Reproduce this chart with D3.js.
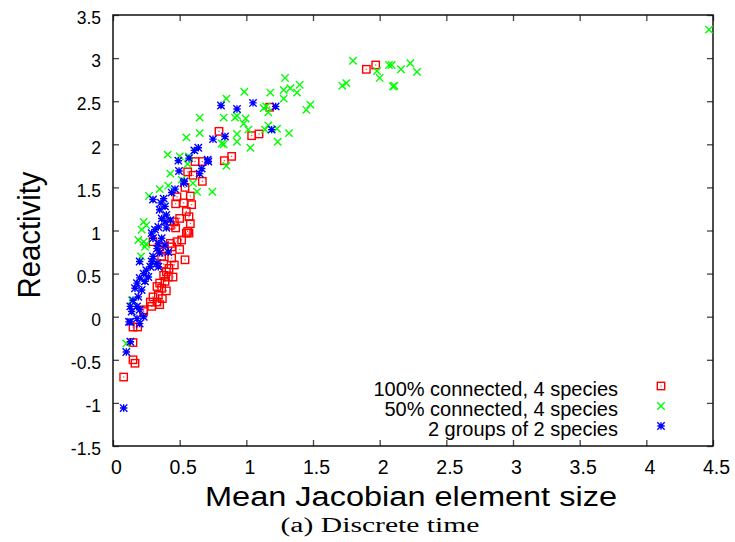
<!DOCTYPE html>
<html><head><meta charset="utf-8">
<script src="https://cdn.jsdelivr.net/npm/d3@7"></script>
<style>
html,body{margin:0;padding:0;background:#fff;}
svg{display:block;}
</style></head>
<body>
<script>
// ---- data ----
const xTicks = [0, 0.5, 1, 1.5, 2, 2.5, 3, 3.5, 4, 4.5];
const xTickLabels = ["0", "0.5", "1", "1.5", "2", "2.5", "3", "3.5", "4", "4.5"];
const yTicks = [-1.5, -1, -0.5, 0, 0.5, 1, 1.5, 2, 2.5, 3, 3.5];
const yTickLabels = ["-1.5", "-1", "-0.5", "0", "0.5", "1", "1.5", "2", "2.5", "3", "3.5"];
const seriesNames = ["100% connected, 4 species", "50% connected, 4 species", "2 groups of 2 species"];
const xTitle = "Mean Jacobian element size";
const yTitle = "Reactivity";
const caption = "(a) Discrete time";

const connected100 = [
 [1.90,2.87],[1.97,2.92],[1.175,2.43],[0.795,2.15],[1.04,2.10],[1.095,2.12],[0.835,1.81],[0.89,1.86],
 [0.615,1.80],[0.67,1.80],[0.56,1.68],[0.60,1.64],[0.67,1.57],[0.54,1.50],[0.48,1.39],[0.58,1.40],
 [0.47,1.31],[0.53,1.32],[0.59,1.30],[0.55,1.22],[0.57,1.16],[0.50,1.14],[0.58,1.08],[0.56,0.99],
 [0.57,0.97],[0.55,0.97],[0.515,0.89],[0.48,0.87],[0.43,0.85],[0.44,0.81],[0.47,1.03],[0.46,1.10],
 [0.43,1.06],[0.30,0.87],[0.35,0.81],[0.38,0.77],[0.365,0.70],[0.54,0.66],[0.46,0.60],[0.40,0.52],
 [0.38,0.48],[0.415,0.46],[0.45,0.46],[0.39,0.41],[0.35,0.39],[0.365,0.33],[0.34,0.25],[0.30,0.23],
 [0.37,0.21],[0.33,0.17],[0.35,0.14],[0.29,0.12],[0.23,0.06],[0.28,0.17],[0.23,0.08],[0.15,-0.12],
 [0.185,-0.12],[0.15,-0.30],[0.15,-0.50],[0.165,-0.54],[0.08,-0.70],
 [0.42,0.56],[0.38,0.61],[0.33,0.35],[0.40,0.30],[0.44,0.68],[0.50,0.78]
];
const connected50 = [
 [1.80,2.97],[1.75,2.71],[1.72,2.68],[2.07,2.92],[2.09,2.92],[2.16,2.87],[2.23,2.94],[2.28,2.84],
 [2.0,2.77],[1.98,2.85],[2.11,2.68],[2.10,2.67],[1.29,2.77],[1.33,2.65],[1.38,2.60],[1.40,2.69],
 [1.28,2.63],[1.28,2.53],[1.48,2.46],[1.45,2.40],[1.18,2.60],[0.985,2.61],[0.85,2.53],[1.13,2.42],
 [1.15,2.44],[1.165,2.37],[0.65,2.31],[0.83,2.31],[0.93,2.33],[0.915,2.31],[0.995,2.30],[0.98,2.24],
 [1.015,2.17],[1.165,2.22],[1.14,2.17],[1.23,2.18],[1.32,2.13],[1.235,2.03],[1.03,1.96],[0.93,2.12],
 [0.93,2.03],[0.815,2.01],[0.83,2.0],[0.65,2.13],[0.55,2.08],[0.41,1.88],[0.50,1.86],[0.57,1.86],
 [0.85,1.75],[0.745,1.45],[0.43,1.66],[0.56,1.77],[0.63,1.45],[0.27,1.40],[0.35,1.48],[0.415,1.52],
 [0.515,1.59],[0.60,1.55],[0.23,1.10],[0.25,1.06],[0.215,1.01],[0.19,0.89],[0.23,0.87],[0.24,0.81],
 [0.25,0.84],[0.21,0.70],[0.14,0.19],[0.10,-0.31],[4.47,3.33]
];
const groups2x2 = [
 [0.81,2.45],[0.93,2.41],[1.05,2.48],[1.22,2.44],[1.19,2.17],[0.75,2.06],[0.84,2.09],[0.61,1.93],
 [0.64,1.96],[0.49,1.81],[0.57,1.84],[0.71,1.82],[0.715,1.80],[0.495,1.69],[0.65,1.66],[0.665,1.72],
 [0.535,1.57],[0.53,1.55],[0.465,1.48],[0.44,1.44],[0.38,1.37],[0.30,1.36],[0.36,1.32],[0.39,1.28],
 [0.35,1.24],[0.40,1.18],[0.365,1.14],[0.39,1.10],[0.43,1.12],[0.34,1.04],[0.40,1.03],[0.315,1.01],
 [0.29,0.97],[0.30,0.91],[0.365,0.91],[0.34,0.85],[0.39,0.83],[0.33,0.79],[0.415,0.75],[0.35,0.74],
 [0.30,0.70],[0.29,0.64],[0.33,0.62],[0.28,0.58],[0.25,0.54],[0.34,0.58],[0.23,0.50],[0.265,0.46],
 [0.20,0.45],[0.24,0.41],[0.18,0.39],[0.165,0.33],[0.215,0.31],[0.19,0.23],[0.15,0.19],[0.13,0.12],
 [0.18,0.12],[0.20,0.08],[0.14,0.06],[0.23,0.00],[0.18,-0.02],[0.13,-0.06],[0.20,-0.08],[0.20,0.64],
 [0.12,-0.06],[0.13,-0.29],[0.10,-0.41],[0.08,-1.06]
];

// ---- layout ----
const W = 735, H = 542;
const L = 113, R = 713, T = 15, B = 446;
const sans = "'Liberation Sans',Arial,Helvetica,sans-serif";
const serif = "'Liberation Serif','DejaVu Serif',serif";
const svg = d3.select("body").append("svg").attr("width", W).attr("height", H);

const x = d3.scaleLinear().domain([0, 4.5]).range([L, R]);
const y = d3.scaleLinear().domain([-1.5, 3.5]).range([B, T]);

const tickColor = "#444";
// bottom axis
const gx = svg.append("g").attr("transform", `translate(0,${B})`)
  .call(d3.axisBottom(x).tickValues(xTicks).tickFormat((d, i) => xTickLabels[i]).tickSizeInner(-6).tickSizeOuter(0).tickPadding(14));
gx.select(".domain").remove();
gx.selectAll(".tick line").attr("stroke", tickColor).attr("stroke-width", 1.3);
gx.selectAll(".tick text").attr("fill", "#000").attr("x", 3)
  .style("font-family", sans).style("font-size", "19.5px");
// top axis (mirror ticks)
const gt = svg.append("g").attr("transform", `translate(0,${T})`)
  .call(d3.axisTop(x).tickValues(xTicks).tickFormat("").tickSizeInner(-6).tickSizeOuter(0));
gt.select(".domain").remove();
gt.selectAll(".tick line").attr("stroke", tickColor).attr("stroke-width", 1.3);
// left axis
const gy = svg.append("g").attr("transform", `translate(${L},0)`)
  .call(d3.axisLeft(y).tickValues(yTicks).tickFormat((d, i) => yTickLabels[i]).tickSizeInner(-6).tickSizeOuter(0).tickPadding(12));
gy.select(".domain").remove();
gy.selectAll(".tick line").attr("stroke", tickColor).attr("stroke-width", 1.3);
gy.selectAll(".tick text").attr("fill", "#000").attr("dy", "0.5em")
  .style("font-family", sans).style("font-size", "17.5px");
// right axis (mirror ticks)
const gr = svg.append("g").attr("transform", `translate(${R},0)`)
  .call(d3.axisRight(y).tickValues(yTicks).tickFormat("").tickSizeInner(-6).tickSizeOuter(0));
gr.select(".domain").remove();
gr.selectAll(".tick line").attr("stroke", tickColor).attr("stroke-width", 1.3);

// border
svg.append("rect").attr("x", L).attr("y", T).attr("width", R - L).attr("height", B - T)
  .attr("fill", "none").attr("stroke", "#111").attr("stroke-width", 1.5);

// ---- markers ----
const s = 3.7;
function drawBox(g, cx, cy) {
  g.append("rect").attr("x", cx - s).attr("y", cy - s).attr("width", 2 * s).attr("height", 2 * s)
    .attr("fill", "none").attr("stroke", "#ff0000").attr("stroke-width", 1.4);
  g.append("rect").attr("x", cx - 0.6).attr("y", cy - 0.6).attr("width", 1.2).attr("height", 1.2)
    .attr("fill", "#ff0000").attr("opacity", 0.8);
}
function drawCross(g, cx, cy) {
  g.append("path").attr("d", `M${cx - s},${cy - s}L${cx + s},${cy + s}M${cx - s},${cy + s}L${cx + s},${cy - s}`)
    .attr("stroke", "#00ff00").attr("stroke-width", 1.4).attr("fill", "none");
}
function drawStar(g, cx, cy) {
  g.append("path").attr("d",
    `M${cx - s},${cy - s}L${cx + s},${cy + s}M${cx - s},${cy + s}L${cx + s},${cy - s}M${cx - s},${cy}L${cx + s},${cy}M${cx},${cy - s}L${cx},${cy + s}`)
    .attr("stroke", "#0000ff").attr("stroke-width", 1.4).attr("fill", "none");
}
const series = [
  {data: connected100, draw: drawBox},
  {data: connected50, draw: drawCross},
  {data: groups2x2, draw: drawStar}
];
const plotG = svg.append("g");
series.forEach(sr => {
  const g = plotG.append("g");
  sr.data.forEach(d => sr.draw(g, x(d[0]), y(d[1])));
});

// ---- legend ----
const legG = svg.append("g");
series.forEach((sr, i) => {
  const by = 396 + i * 20;
  legG.append("text").attr("x", 618).attr("y", by).attr("text-anchor", "end")
    .style("font-family", sans).style("font-size", "20px").attr("fill", "#000").text(seriesNames[i]);
  sr.draw(legG, 661, by - 10);
});

// ---- titles ----
svg.append("text").attr("x", 411).attr("y", 506).attr("text-anchor", "middle")
  .style("font-family", sans).style("font-size", "27px").attr("fill", "#000")
  .attr("textLength", 412).attr("lengthAdjust", "spacingAndGlyphs").text(xTitle);
svg.append("text").attr("transform", "translate(40,235) rotate(-90)").attr("text-anchor", "middle")
  .style("font-family", sans).style("font-size", "32px").attr("fill", "#000")
  .attr("textLength", 127).attr("lengthAdjust", "spacingAndGlyphs").text(yTitle);
svg.append("text").attr("x", 380).attr("y", 532).attr("text-anchor", "middle")
  .style("font-family", serif).style("font-size", "20px").attr("fill", "#000")
  .attr("textLength", 199).attr("lengthAdjust", "spacingAndGlyphs").text(caption);
</script>
</body></html>
